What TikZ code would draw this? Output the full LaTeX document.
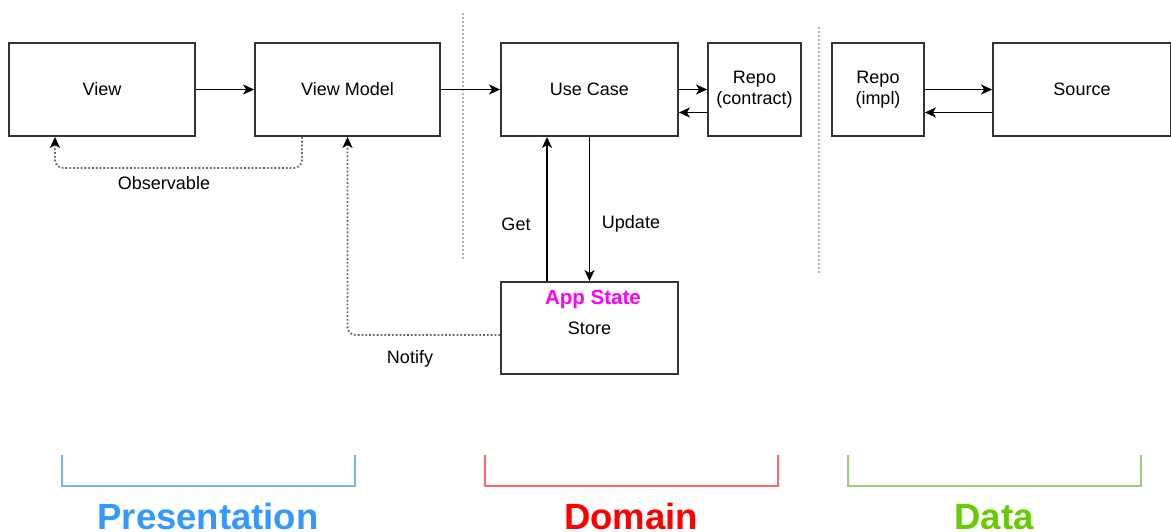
\documentclass[tikz,border=0pt]{standalone}
\usepackage{fontspec}
\setmainfont{Liberation Sans}
\usetikzlibrary{arrows.meta,positioning}
\definecolor{myblue}{RGB}{51,153,255}
\definecolor{mybluelight}{RGB}{126,178,240}
\definecolor{myred}{RGB}{255,0,0}
\definecolor{myredlight}{RGB}{255,102,102}
\definecolor{mygreen}{RGB}{102,204,0}
\definecolor{mygreenlight}{RGB}{151,208,119}
\definecolor{mymagenta}{RGB}{255,0,255}
\tikzstyle{block}=[draw=black!80,line width=1.8pt,rectangle,minimum height=93pt,inner sep=0pt,align=center,font=\fontsize{18}{21}\selectfont]
\tikzstyle{lbl}=[inner sep=0pt,font=\fontsize{18}{21}\selectfont]
\tikzstyle{layer}=[inner sep=0pt,anchor=base,font=\bfseries\fontsize{36.5}{40}\selectfont]

\begin{document}
\begin{tikzpicture}[x=1pt,y=-1pt,line width=1.8pt,>={Stealth[length=11pt,width=10pt,inset=3pt]}]
\tikzstyle{sep}=[draw=black!30,dotted,line width=2pt]
\tikzstyle{dotconn}=[draw=black!60,dotted,line width=1.8pt,rounded corners=8pt]
\useasboundingbox (0,0) rectangle (1171,531);
% top row
\draw (102,89.5) node [block,minimum width=186pt] (view) {View};
\draw (347.5,89.5) node [block,minimum width=185pt] (vm) {View Model};
\draw (589.5,89.5) node [block,minimum width=177pt] (uc) {Use Case};
\draw (754.5,89.5) node [block,minimum width=93pt] (repoc) {Repo\\(contract)};
\draw (878,89.5) node [block,minimum width=92pt] (repoi) {Repo\\(impl)};
\draw (1082,89.5) node [block,minimum width=178pt] (src) {Source};
% store
\draw (589.5,328) node [block,minimum width=177pt,minimum height=92pt] (store) {Store};
\draw (593,299) node [lbl,font=\bfseries\fontsize{20.5}{22}\selectfont,text=mymagenta] (appstate) {App State};
% separators
\draw[sep] (463,13) -- (463,260);
\draw[sep] (819,27) -- (819,273);
% arrows
\draw[->] (view) -- (vm);
\draw[->] (vm) -- (uc);
\draw[->] (uc.east) -- (repoc.west);
\draw[->] ([yshift=-23pt]repoc.west) -- ([yshift=-23pt]uc.east);
\draw[->] (repoi.east) -- (src.west);
\draw[->] ([yshift=-23pt]src.west) -- ([yshift=-23pt]repoi.east);
\draw[->] ([xshift=-42.5pt]store.north) -- ([xshift=-42.5pt]uc.south);
\draw[->] (uc.south) -- (store.north);
\draw (516,224) node [lbl] (get) {Get};
\draw (631,224) node [lbl] (update) {Update};
% dotted links
\draw[dotconn,-{Stealth[length=11pt,width=10pt,inset=3pt,black]}] ([xshift=-45.5pt]vm.south) -- ++(0,31) -| ([xshift=-47pt]view.south);
\draw (164,183) node [lbl] (observable) {Observable};
\draw[dotconn,-{Stealth[length=11pt,width=10pt,inset=3pt,black]}] ([yshift=-7pt]store.west) -| (vm.south);
\draw (410,359) node [lbl] (notify) {Notify};
% layers
\draw[mybluelight] (62,455) -- (62,486) -- (355,486) -- (355,455);
\draw[myredlight] (485,455) -- (485,486) -- (778,486) -- (778,455);
\draw[mygreenlight] (848,455) -- (848,486) -- (1141,486) -- (1141,455);
\draw (208,529) node [layer,text=myblue] (pres) {Presentation};
\draw (631,529) node [layer,text=myred] (dom) {Domain};
\draw (994,529) node [layer,text=mygreen] (data) {Data};
\end{tikzpicture}
\end{document}
